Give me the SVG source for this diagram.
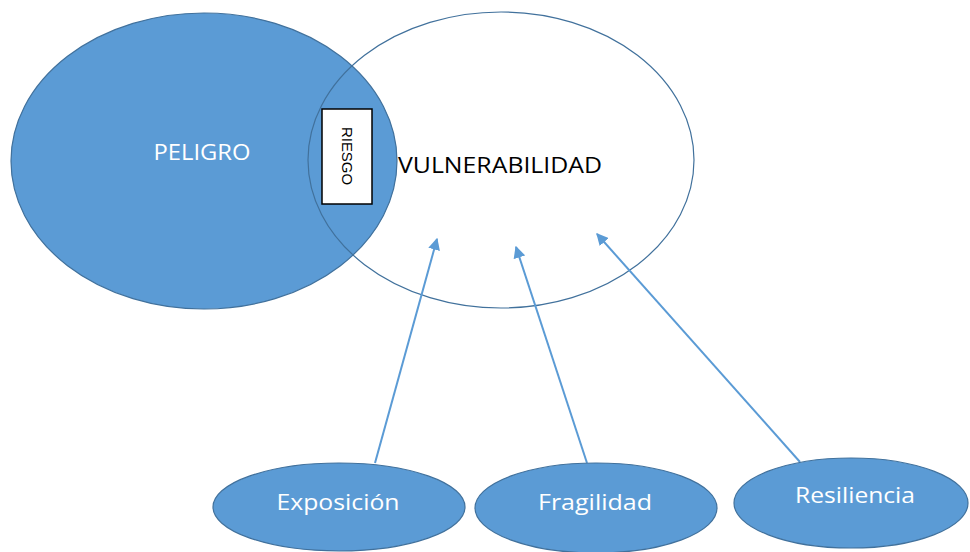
<svg xmlns="http://www.w3.org/2000/svg" width="970" height="552" viewBox="0 0 970 552">
<style>
.blue{fill:#5b9bd5;stroke:#41719c;stroke-width:1.2}
.wt{fill:#ffffff;font-family:"Open Sans","Liberation Sans",sans-serif;text-anchor:middle}
.conn{stroke:#5b9bd5;stroke-width:2;fill:none;marker-end:url(#ah)}
</style>
<defs>
<marker id="ah" viewBox="0 0 10 10" refX="9" refY="5" markerWidth="6" markerHeight="6" markerUnits="strokeWidth" orient="auto">
<path d="M0,0 L10,5 L0,10 z" fill="#5b9bd5"/>
</marker>
</defs>
<rect width="970" height="552" fill="#ffffff"/>
<g id="peligro">
<ellipse class="blue" cx="204" cy="161" rx="193" ry="148"/>
<text class="wt" x="202" y="160" font-size="21" textLength="97" lengthAdjust="spacingAndGlyphs">PELIGRO</text>
</g>
<g id="vulnerabilidad">
<ellipse cx="501" cy="160" rx="193" ry="148" fill="none" stroke="#41719c" stroke-width="1.2"/>
<text x="500" y="173" font-family="'Open Sans','Liberation Sans',sans-serif" font-size="22" text-anchor="middle" fill="#000000" textLength="204" lengthAdjust="spacingAndGlyphs">VULNERABILIDAD</text>
</g>
<g id="riesgo">
<rect x="322" y="109" width="50" height="95" fill="#ffffff" stroke="#000000" stroke-width="1.5"/>
<text x="0" y="0" transform="translate(342,156) rotate(90)" font-family="'Liberation Sans',sans-serif" font-size="15" text-anchor="middle" fill="#000000" textLength="58" lengthAdjust="spacingAndGlyphs">RIESGO</text>
</g>
<g id="connectors">
<line class="conn" x1="375" y1="463" x2="437" y2="239"/>
<line class="conn" x1="587" y1="463" x2="516" y2="247"/>
<line class="conn" x1="800" y1="462" x2="597" y2="234"/>
</g>
<g id="exposicion">
<ellipse class="blue" cx="339" cy="507" rx="126" ry="44"/>
<text class="wt" x="338" y="510" font-size="22" textLength="123" lengthAdjust="spacingAndGlyphs">Exposición</text>
</g>
<g id="fragilidad">
<ellipse class="blue" cx="596" cy="508" rx="121" ry="45"/>
<text class="wt" x="595" y="510" font-size="22" textLength="114" lengthAdjust="spacingAndGlyphs">Fragilidad</text>
</g>
<g id="resiliencia">
<ellipse class="blue" cx="851" cy="503" rx="117" ry="45"/>
<text class="wt" x="855" y="503" font-size="22" textLength="120" lengthAdjust="spacingAndGlyphs">Resiliencia</text>
</g>
</svg>
